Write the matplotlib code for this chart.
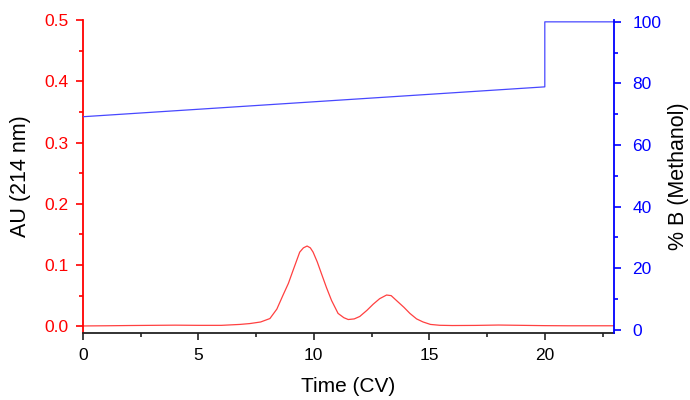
import matplotlib
matplotlib.use('Agg')
import matplotlib.pyplot as plt
from matplotlib.ticker import MultipleLocator

plt.rcParams['font.family'] = ['Liberation Sans', 'DejaVu Sans']

# UV trace (214 nm)
t_uv = [0, 1, 2, 3, 4, 5, 6, 6.8, 7.23, 7.7, 8.1, 8.4, 8.67, 8.9, 9.1, 9.39, 9.55,
        9.71, 9.85, 9.97, 10.15, 10.33, 10.55, 10.77, 11.05, 11.3, 11.49, 11.75, 11.99,
        12.3, 12.57, 12.85, 13.15, 13.35, 13.58, 13.9, 14.16, 14.45, 14.73, 15.05, 15.45,
        16, 17, 18, 19, 20, 21, 22, 23]
au = [0.0005, 0.0008, 0.0012, 0.0015, 0.0018, 0.0015, 0.0015, 0.003, 0.0044, 0.007, 0.0126,
      0.028, 0.051, 0.07, 0.091, 0.121, 0.128, 0.131, 0.128, 0.121, 0.105, 0.086, 0.063,
      0.042, 0.021, 0.014, 0.011, 0.012, 0.016, 0.026, 0.036, 0.045, 0.051, 0.050, 0.042,
      0.031, 0.021, 0.012, 0.007, 0.003, 0.0016, 0.0012, 0.0014, 0.002, 0.0015, 0.001,
      0.0008, 0.0008, 0.0008]

# gradient (% B methanol)
t_b = [0, 20, 20, 23]
pct_b = [69.2, 78.9, 100, 100]

fig = plt.figure(figsize=(6.9, 4), dpi=100)
ax = fig.add_axes([0.120, 0.1675, 0.770, 0.7825])
ax2 = ax.twinx()

ax.plot(t_uv, au, color='#ff4040', lw=0.9)
ax2.plot(t_b, pct_b, color='#4848ff', lw=0.9)

ax.set_xlim(0, 23)
ax.set_ylim(-0.011, 0.5)
ax2.set_ylim(-1, 100.6)

ax.xaxis.set_major_locator(MultipleLocator(5))
ax.xaxis.set_minor_locator(MultipleLocator(2.5))
ax.yaxis.set_major_locator(MultipleLocator(0.1))
ax.yaxis.set_minor_locator(MultipleLocator(0.05))
ax2.yaxis.set_major_locator(MultipleLocator(20))
ax2.yaxis.set_minor_locator(MultipleLocator(10))
ax.yaxis.set_major_formatter(plt.FormatStrFormatter('%.1f'))

for a in (ax, ax2):
    a.spines['top'].set_visible(False)
ax.spines['right'].set_visible(False)
ax.spines['left'].set_color('red')
ax2.spines['right'].set_color('blue')
ax2.spines['left'].set_visible(False)
ax.spines['bottom'].set_color('#222222')
ax2.spines['bottom'].set_visible(False)
for s in ('left', 'bottom'):
    ax.spines[s].set_linewidth(1.3)
ax2.spines['right'].set_linewidth(1.3)

ax.tick_params(axis='x', which='major', length=5, width=1.2, colors='#222222',
               labelsize=12.5, labelcolor='black', pad=6)
ax.tick_params(axis='x', which='minor', length=3, width=1.2, colors='#222222')
ax.tick_params(axis='y', which='major', length=5, width=1.2, colors='red', labelsize=12.5, pad=5)
ax.tick_params(axis='y', which='minor', length=3, width=1.2, colors='red')
ax2.tick_params(axis='y', which='major', length=5, width=1.2, colors='blue', labelsize=12.5, pad=8)
ax2.tick_params(axis='y', which='minor', length=3, width=1.2, colors='blue')

ax.set_xlabel('Time (CV)', fontsize=15, labelpad=10)
ax.set_ylabel('AU (214 nm)', fontsize=15.5, labelpad=10)
ax2.set_ylabel('% B (Methanol)', fontsize=15.5, labelpad=5)

fig.savefig('out.png', dpi=100)
